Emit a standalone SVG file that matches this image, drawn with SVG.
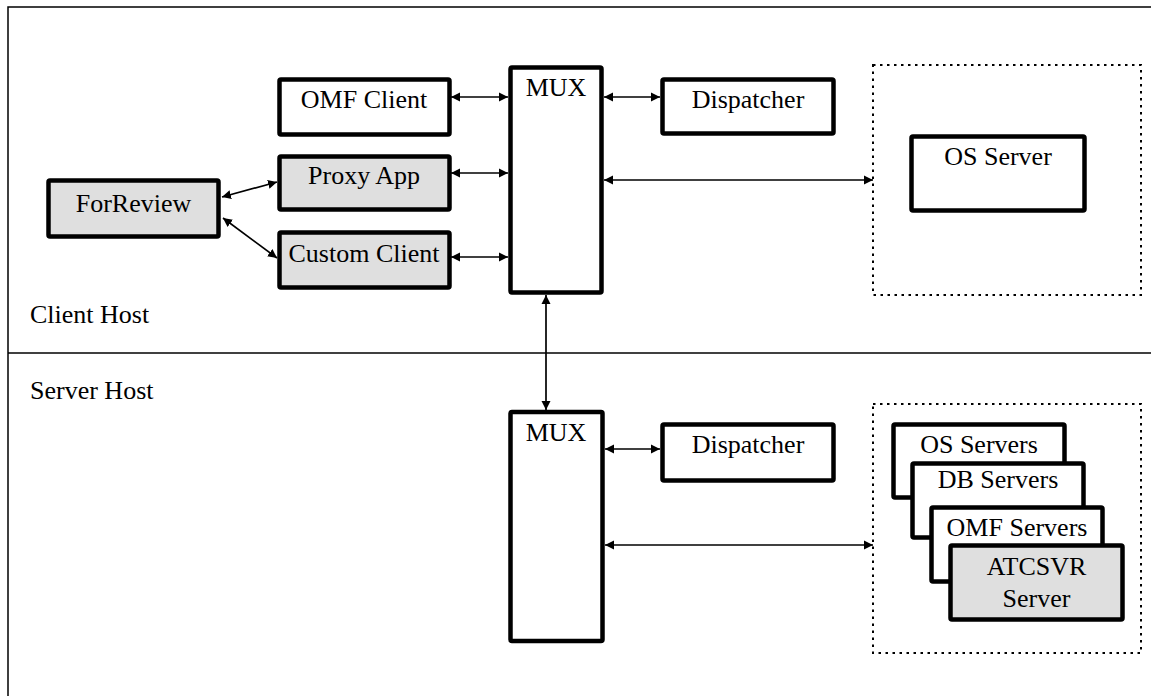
<svg xmlns="http://www.w3.org/2000/svg" width="1151" height="696" viewBox="0 0 1151 696">
<style>
.box{fill:#ffffff;stroke:#000;stroke-width:4.5;stroke-linejoin:round}
.grey{fill:#dfdfdf}
.dot{fill:none;stroke:#000;stroke-width:2;stroke-dasharray:2.5 4.5}
.frame{fill:none;stroke:#000;stroke-width:1.5}
.lbl{font-family:"Liberation Serif","Times New Roman",serif;font-size:26px;fill:#000}
.c{text-anchor:middle}
.con{stroke:#000;stroke-width:1.7;fill:none;marker-start:url(#ah);marker-end:url(#ah)}
</style>
<defs>
<marker id="ah" markerUnits="userSpaceOnUse" markerWidth="10" markerHeight="10" refX="9" refY="5" orient="auto-start-reverse" viewBox="0 0 10 10">
<path d="M0,0.5 L9,5 L0,9.5 z" fill="#000"/>
</marker>
</defs>
<rect width="1151" height="696" fill="#fff"/>
<g id="frame">
<rect class="frame" x="8" y="7" width="1200" height="750"/>
<line class="frame" x1="8" y1="353" x2="1151" y2="353"/>
<text class="lbl" x="30" y="323">Client Host</text>
<text class="lbl" x="30" y="399">Server Host</text>
</g>
<g id="connectors">
<line class="con" x1="451" y1="97" x2="508" y2="97"/>
<line class="con" x1="451" y1="173" x2="508" y2="173"/>
<line class="con" x1="451" y1="257" x2="508" y2="257"/>
<line class="con" x1="604" y1="97" x2="660" y2="97"/>
<line class="con" x1="604" y1="180" x2="873" y2="180"/>
<line class="con" x1="546" y1="295" x2="546" y2="410"/>
<line class="con" x1="605" y1="449" x2="660" y2="449"/>
<line class="con" x1="605" y1="545" x2="873" y2="545"/>
<line class="con" x1="222" y1="197" x2="277" y2="182"/>
<line class="con" x1="223" y1="218" x2="277" y2="258"/>
</g>
<g id="omf-client"><rect class="box" x="279.5" y="79.5" width="170" height="55" rx="1.5"/><text class="lbl c" x="364" y="108">OMF Client</text></g>
<g id="proxy-app"><rect class="box grey" x="279.5" y="156.5" width="170" height="53" rx="1.5"/><text class="lbl c" x="364" y="184">Proxy App</text></g>
<g id="custom-client"><rect class="box grey" x="279.5" y="232.5" width="170" height="55" rx="1.5"/><text class="lbl c" x="364" y="262">Custom Client</text></g>
<g id="forreview"><rect class="box grey" x="48.5" y="180.5" width="170" height="56" rx="1.5"/><text class="lbl c" x="133.5" y="212">ForReview</text></g>
<g id="mux-client"><rect class="box" x="510.5" y="67.5" width="91" height="225" rx="1.5"/><text class="lbl c" x="556" y="96">MUX</text></g>
<g id="dispatcher-client"><rect class="box" x="662.5" y="79.5" width="171" height="54" rx="1.5"/><text class="lbl c" x="748" y="108">Dispatcher</text></g>
<g id="os-server-group"><rect class="dot" x="873" y="65" width="268" height="230"/></g>
<g id="os-server"><rect class="box" x="911.5" y="136.5" width="173" height="74" rx="1.5"/><text class="lbl c" x="998" y="165">OS Server</text></g>
<g id="mux-server"><rect class="box" x="510.5" y="412" width="92" height="229" rx="1.5"/><text class="lbl c" x="556" y="441">MUX</text></g>
<g id="dispatcher-server"><rect class="box" x="662.5" y="424.5" width="171" height="56" rx="1.5"/><text class="lbl c" x="748" y="453">Dispatcher</text></g>
<g id="servers-group"><rect class="dot" x="873" y="404" width="268" height="249"/></g>
<g id="os-servers"><rect class="box" x="893.5" y="424.5" width="171" height="73" rx="1.5"/><text class="lbl c" x="979" y="453">OS Servers</text></g>
<g id="db-servers"><rect class="box" x="912.5" y="463.5" width="171" height="74" rx="1.5"/><text class="lbl c" x="998" y="488">DB Servers</text></g>
<g id="omf-servers"><rect class="box" x="931.5" y="507.5" width="171" height="74" rx="1.5"/><text class="lbl c" x="1017" y="536">OMF Servers</text></g>
<g id="atcsvr-server"><rect class="box grey" x="950.5" y="545.5" width="172" height="74" rx="1.5"/><text class="lbl c" x="1036.5" y="575">ATCSVR</text><text class="lbl c" x="1036.5" y="607">Server</text></g>
</svg>
